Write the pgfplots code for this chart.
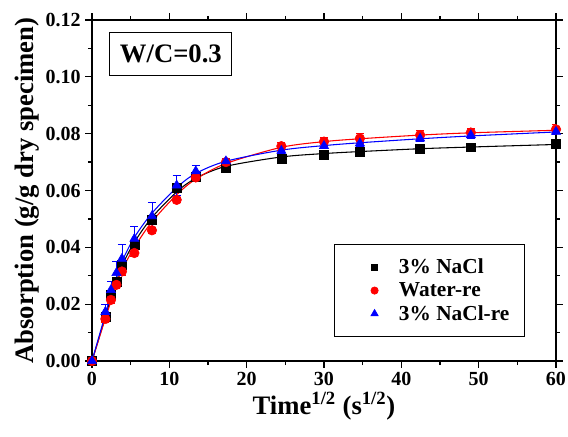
\documentclass[border=0pt]{standalone}
\usepackage{fontspec}
\setmainfont{Liberation Serif}
\usepackage{pgfplots}
\pgfplotsset{compat=1.18}
\begin{document}
\begin{tikzpicture}[x=1pt,y=1pt]
\useasboundingbox (-69,-56.25) rectangle (357,270.75);
\begin{axis}[at={(0,0)}, anchor=south west, scale only axis,
  width=348pt, height=255.75pt,
  xmin=0, xmax=60, ymin=0, ymax=0.12,
  xtick={0,10,20,30,40,50,60}, minor x tick num=1,
  xticklabels={0,10,20,30,40,50,60},
  ytick={0,0.02,0.04,0.06,0.08,0.10,0.12}, minor y tick num=1,
  yticklabels={0.00,0.02,0.04,0.06,0.08,0.10,0.12},
  scaled y ticks=false,
  tick label style={font=\bfseries\fontsize{15}{18}\selectfont},
  tick align=outside, tick pos=both,
  major tick length=5pt, minor tick length=3pt,
  axis line style={line width=1.1pt},
  every tick/.style={line width=0.9pt, black},
  xlabel={Time\textsuperscript{1/2} (s\textsuperscript{1/2})},
  ylabel={Absorption (g/g dry specimen)},
  label style={font=\bfseries\fontsize{20}{24}\selectfont},
  xlabel style={yshift=2pt},
  ylabel style={yshift=-2pt},
  legend style={at={(0.932,0.343)}, anchor=north east, draw=black, line width=0.6pt,
    font=\bfseries\fontsize{16}{18}\selectfont, inner xsep=9pt, inner ysep=9pt,
    row sep=1pt, legend cell align=left},
  legend image code/.code={\path (0pt,0pt) (37pt,0pt); \draw[mark size=0.75*\pgfplotmarksize] plot coordinates {(21pt,0pt)};},
]
% fitted curves
\addplot[black, line width=0.8pt, smooth, forget plot] coordinates {
(0,0) (1.73,0.0155) (2.45,0.0222) (3.16,0.0280) (3.87,0.0335) (5.48,0.0418) (7.75,0.0505) (10.95,0.0595) (13.42,0.0643) (17.32,0.0685) (24.49,0.0718) (30,0.0730) (34.64,0.0737) (42.43,0.0747) (48.99,0.0753) (60,0.0762)};
\addplot[red, line width=0.8pt, smooth, forget plot] coordinates {
(0,0) (1.73,0.0150) (2.45,0.0210) (3.16,0.0270) (3.87,0.0320) (5.48,0.0400) (7.75,0.0490) (10.95,0.0585) (13.42,0.0640) (17.32,0.0695) (24.49,0.0752) (30,0.0772) (34.64,0.0782) (42.43,0.0795) (48.99,0.0803) (60,0.0812)};
\addplot[blue, line width=0.8pt, smooth, forget plot] coordinates {
(0,0) (1.73,0.0165) (2.45,0.0235) (3.16,0.0295) (3.87,0.0350) (5.48,0.0435) (7.75,0.0520) (10.95,0.0610) (13.42,0.0660) (17.32,0.0703) (24.49,0.0742) (30,0.0758) (34.64,0.0768) (42.43,0.0782) (48.99,0.0792) (60,0.0806)};
% data
\addplot[only marks, mark=square*, mark size=3.3pt, black,
  error bars/.cd, y dir=both, y explicit, error bar style={line width=0.6pt, black}, error mark options={rotate=90, mark size=3pt}] coordinates {
(0,0) +- (0,0) (1.73,0.0155) +- (0,0.001) (2.45,0.0232) +- (0,0.0015) (3.16,0.0280) +- (0,0.0015) (3.87,0.0340) +- (0,0.0015) (5.48,0.0410) +- (0,0.0015) (7.75,0.0496) +- (0,0.0015) (10.95,0.0611) +- (0,0.0015) (13.42,0.0649) +- (0,0.001) (17.32,0.0678) +- (0,0.001) (24.49,0.0713) +- (0,0.001) (30,0.0727) +- (0,0.001) (34.64,0.0736) +- (0,0.001) (42.43,0.0747) +- (0,0.001) (48.99,0.0752) +- (0,0.001) (60,0.0764) +- (0,0.001)};
\addlegendentry{3\% NaCl}
\addplot[only marks, mark=*, mark size=3.6pt, red,
  error bars/.cd, y dir=both, y explicit, error bar style={line width=0.6pt, red}, error mark options={rotate=90, mark size=3pt}] coordinates {
(0,0) +- (0,0) (1.73,0.0148) +- (0,0.001) (2.45,0.0215) +- (0,0.0012) (3.16,0.0268) +- (0,0.0012) (3.87,0.0315) +- (0,0.0012) (5.48,0.0380) +- (0,0.0012) (7.75,0.0460) +- (0,0.001) (10.95,0.0567) +- (0,0.001) (13.42,0.0646) +- (0,0.001) (17.32,0.0700) +- (0,0.001) (24.49,0.0756) +- (0,0.0015) (30,0.0772) +- (0,0.0015) (34.64,0.0783) +- (0,0.0018) (42.43,0.0795) +- (0,0.0018) (48.99,0.0804) +- (0,0.0015) (60,0.0815) +- (0,0.0018)};
\addlegendentry{Water-re}
\addplot[only marks, mark=triangle*, mark size=4pt, blue,
  error bars/.cd, y dir=both, y explicit, error bar style={line width=0.6pt, blue}, error mark options={rotate=90, mark size=3pt}] coordinates {
(0,0) +- (0,0) (1.73,0.0173) +- (0,0.0025) (2.45,0.0250) +- (0,0.003) (3.16,0.0310) +- (0,0.004) (3.87,0.0360) +- (0,0.005) (5.48,0.0430) +- (0,0.0045) (7.75,0.0510) +- (0,0.005) (10.95,0.0618) +- (0,0.0035) (13.42,0.0668) +- (0,0.0022) (17.32,0.0703) +- (0,0.001) (24.49,0.0740) +- (0,0.001) (30,0.0757) +- (0,0.001) (34.64,0.0766) +- (0,0.001) (42.43,0.0783) +- (0,0.001) (48.99,0.0795) +- (0,0.001) (60,0.0807) +- (0,0.001)};
\addlegendentry{3\% NaCl-re}
\node[draw, line width=0.6pt, inner sep=0pt, minimum width=91.5pt, minimum height=32pt,
  font=\bfseries\fontsize{20}{24}\selectfont] at (axis cs:10.2,0.108) {W/C=0.3};
\end{axis}
\end{tikzpicture}
\end{document}
